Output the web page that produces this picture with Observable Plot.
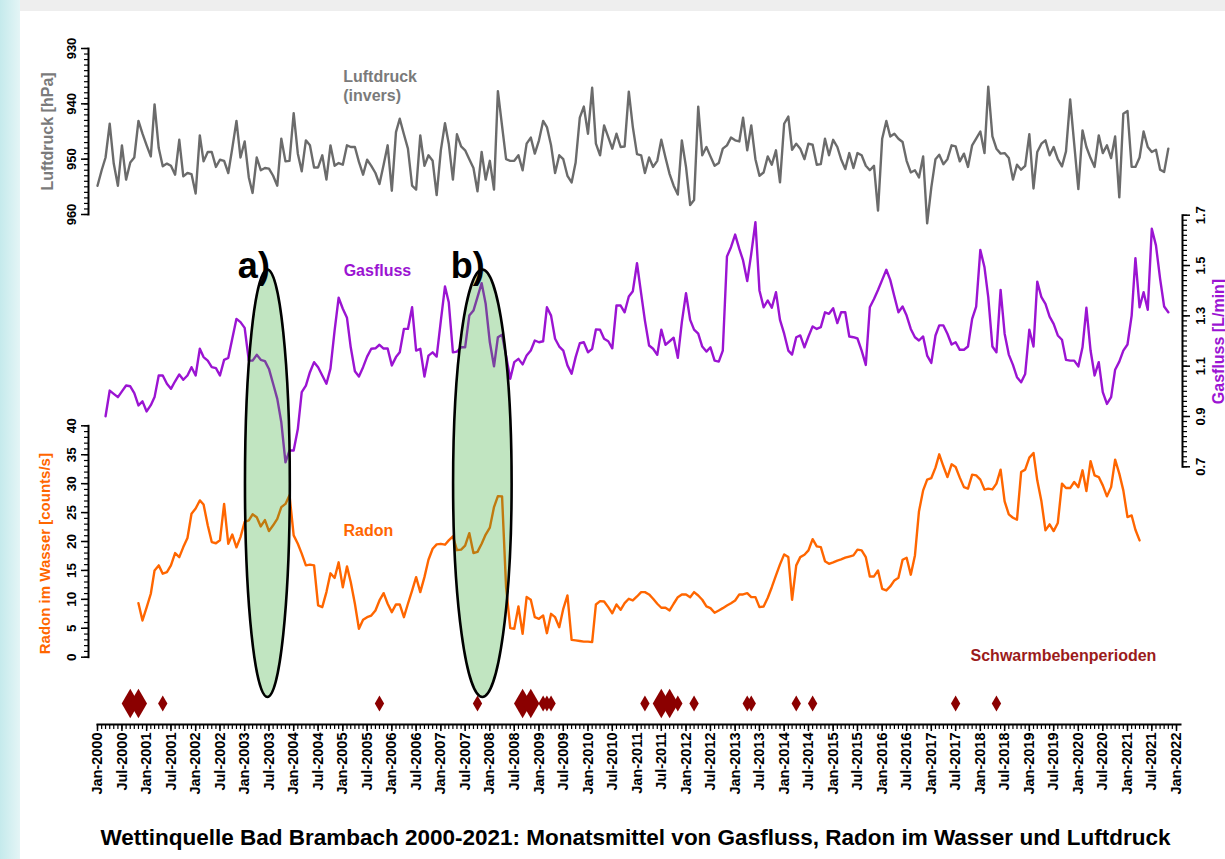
<!DOCTYPE html>
<html>
<head>
<meta charset="utf-8">
<script src="https://cdn.jsdelivr.net/npm/d3@7"></script>
<script src="https://cdn.jsdelivr.net/npm/@observablehq/plot@0.6"></script>
<style>
  html, body { margin: 0; padding: 0; background: #ffffff; }
  body { width: 1225px; height: 859px; overflow: hidden; position: relative; font-family: "Liberation Sans", Arial, Helvetica, sans-serif; }
  #topband { position: absolute; left: 0; top: 0; width: 1225px; height: 11px; background: #eeeeee; }
  #leftband { position: absolute; left: 0; top: 0; width: 20px; height: 859px; background: linear-gradient(to right, #c5eaec, #e4f5f6); }
  #chart { position: absolute; left: 0; top: 0; width: 1225px; height: 810px; }
  #chart > svg { position: absolute; left: 0; top: 0; margin: 0; }
  #title { position: absolute; left: 80px; width: 1111px; top: 825px; text-align: center; font-size: 22.5px; font-weight: bold; line-height: 26px; color: #000; white-space: nowrap; }
</style>
</head>
<body>
<div id="topband"></div>
<div id="leftband"></div>
<div id="chart"></div>
<div id="title">Wettinquelle Bad Brambach 2000-2021: Monatsmittel von Gasfluss, Radon im Wasser und Luftdruck</div>
<script>
// ---------------- DATA (monthly means) ----------------
const luftdruckStart = "2000-01";
const luftdruck = [
954.8,952,949.7,943.6,950.8,954.8,947.5,953.7,950.6,949.7,943.1,945.4,
947.5,949.5,940.1,948,951.3,950.8,951.2,952.8,946.5,953.1,952.5,952.7,
956.2,945.7,950.4,948.7,948.7,951.4,950.1,950.3,952.5,948,943.1,949.7,
946.8,953.3,956.1,949.7,952,951.6,951.7,953,954.8,946.3,950.4,950.3,
941.7,949,952.2,946.6,947.5,951.5,951.5,949.3,953.7,947.5,951.2,950.7,
951,947.5,947.8,947.8,950.5,952.8,950.1,951.2,952.5,954.5,951,947.5,
955.7,945.1,942.7,945.5,948.1,954.8,955.5,945.7,951.2,949.3,950.3,956.5,
948.4,943.5,947.2,953.7,945.5,947.7,948.4,950,951.6,955.8,948.7,953.7,
950.3,955.5,937.7,944,950,950.3,950.3,949.3,952,947.2,946.1,949,
946.6,943.1,944.2,947.5,952.5,949.3,950,953,954.2,950.6,942.5,940.5,
945.4,937.1,947.2,949.3,943.9,946,948.1,945.4,947.8,947.7,937.8,944.2,
949.1,949.3,952.5,949.7,951.4,950.3,946.5,949.7,952.7,954.8,956.4,946.6,
951.4,958.3,957.4,940.5,949.3,947.8,949.5,951.2,950.7,948.1,947.5,946.1,
946.6,946.8,942.5,948.4,943.9,950,953,952.4,949.5,951,948.4,954.2,
943.6,942.3,948.3,947.2,948.1,950,947.2,947.4,951,950.9,946.3,949.3,
946.5,947.8,950,951.8,948.9,951.6,948.9,949.3,951.2,952,951.2,959.3,
946.3,943.1,945.9,945.4,946.3,946.9,950.3,952.4,952,953.3,949.5,961.6,
955.1,950,949.2,950.9,950,947.5,947.7,950.4,949,951.4,947.5,946.3,
945,948.9,936.9,945.9,948.1,949,948.9,949.8,953.7,951,951.9,951.2,
945.5,955.3,948.7,947.2,946.6,949.3,947.8,950,951.3,948.6,939.2,947.2,
955.4,944.8,947.8,949.8,951.4,945.7,948.9,947.5,949.8,945.9,956.9,941.8,
941.3,951.4,951.4,949.7,945,947.8,948.7,948.3,951.9,952.3,948.1
];

const gasflussStart = "2000-03";
const gasfluss = [
0.901,1.003,0.99,0.977,1.0,1.023,1.020,0.993,0.944,0.960,
0.920,0.945,0.977,1.063,1.063,1.03,1.010,1.04,1.067,1.046,1.063,1.096,
1.063,1.169,1.136,1.122,1.096,1.092,1.063,1.125,1.133,1.21,1.288,1.275,
1.252,1.122,1.122,1.145,1.125,1.120,1.089,1.030,0.970,0.877,0.718,0.765,
0.765,0.85,0.997,1.023,1.076,1.116,1.096,1.063,1.030,1.090,1.242,1.372,
1.328,1.292,1.175,1.080,1.059,1.096,1.138,1.169,1.171,1.185,1.17,1.17,
1.103,1.136,1.155,1.248,1.248,1.334,1.162,1.169,1.059,1.142,1.155,1.138,
1.28,1.417,1.354,1.155,1.158,1.175,1.175,1.301,1.321,1.374,1.430,1.348,
1.195,1.099,1.215,1.225,1.14,1.050,1.116,1.129,1.107,1.142,1.162,1.202,
1.195,1.199,1.334,1.301,1.209,1.178,1.162,1.103,1.070,1.136,1.191,1.195,
1.155,1.169,1.246,1.245,1.209,1.199,1.171,1.341,1.341,1.314,1.377,1.398,
1.509,1.388,1.281,1.182,1.169,1.145,1.245,1.185,1.199,1.213,1.133,1.275,
1.390,1.284,1.245,1.229,1.178,1.158,1.175,1.122,1.118,1.162,1.536,1.573,
1.623,1.566,1.520,1.438,1.547,1.672,1.401,1.334,1.361,1.332,1.394,1.284,
1.229,1.162,1.146,1.215,1.222,1.175,1.218,1.258,1.248,1.255,1.314,1.308,
1.330,1.271,1.314,1.314,1.218,1.215,1.21,1.162,1.105,1.334,1.367,1.403,
1.443,1.483,1.443,1.377,1.314,1.337,1.301,1.248,1.215,1.202,1.218,1.142,
1.113,1.222,1.262,1.262,1.229,1.186,1.195,1.165,1.165,1.178,1.288,1.337,
1.562,1.493,1.374,1.178,1.155,1.403,1.229,1.146,1.105,1.056,1.036,1.069,
1.245,1.178,1.436,1.374,1.348,1.297,1.268,1.222,1.205,1.125,1.122,1.122,
1.099,1.175,1.332,1.162,1.063,1.116,0.997,0.950,0.977,1.086,1.118,1.162,
1.186,1.301,1.529,1.334,1.394,1.324,1.646,1.580,1.447,1.337,1.314
];

const radonStart = "2000-11";
const radon = [
9.34,6.35,8.6,10.97,15.0,15.87,14.43,14.7,15.87,18.0,17.3,19.03,
20.6,24.8,25.7,27.1,26.4,22.8,19.9,19.7,20.2,26.5,19.6,21.2,
19.0,20.76,23.4,23.65,24.7,24.2,22.6,23.7,21.8,22.8,23.9,25.95,
26.5,28.0,21.06,19.6,17.9,15.87,16.0,15.87,8.94,8.65,11.25,14.5,
13.7,16.4,12.1,15.7,13.0,9.24,4.91,6.47,6.92,7.2,8.08,9.81,
11.07,9.24,7.79,9.12,9.12,6.92,9.24,11.5,13.84,11.25,13.84,16.85,
18.75,19.5,19.6,19.45,20.2,20.9,18.5,18.6,19.3,21.45,18.0,18.2,
19.6,21.2,22.4,25.95,27.85,27.8,12.1,5.02,4.91,8.77,4.05,10.4,
9.93,6.92,6.64,7.2,4.15,7.5,6.92,5.19,8.37,10.67,3.0,2.9,
2.8,2.7,2.7,2.6,9.12,9.7,9.64,8.65,7.6,9.12,8.2,9.34,
10.1,9.81,10.5,11.25,11.25,10.85,10.1,9.24,8.55,8.55,8.08,9.24,
10.38,10.85,10.85,10.38,11.25,10.67,9.93,8.77,8.48,7.68,8.08,8.48,
8.94,9.34,9.81,10.85,10.85,11.07,10.38,10.38,8.65,8.77,10.28,12.1,
14.13,16.04,17.77,17.3,9.93,15.87,17.3,17.7,18.46,20.4,19.15,19.03,
16.6,16.15,16.4,16.7,16.9,17.2,17.4,17.6,18.6,18.46,17.3,13.96,
13.96,15.0,11.83,11.54,12.23,13.27,13.73,16.85,17.2,14.26,17.6,25.2,
28.84,30.7,30.97,32.77,35.07,33.0,31.14,33.34,32.87,31.04,29.4,29.13,
31.56,31.44,30.7,28.96,29.13,29.0,30.0,32.42,26.94,24.69,24.1,23.77,
32.0,32.42,34.5,35.3,30.57,26.94,21.92,22.96,21.8,23.2,30.0,29.24,
29.24,30.28,29.4,32.3,28.72,33.9,31.44,31.14,29.7,27.8,29.4,34.15,
31.73,28.84,24.22,24.5,22.04,20.19
];

// Schwarmbebenperioden (month, relative strength 1 = small, 2 = large)
const bebenMonate = ["2000-09","2000-11","2001-05","2005-10","2007-10","2008-09","2008-11",
  "2009-02","2009-03","2009-04","2011-03","2011-07","2011-09","2011-11","2012-03",
  "2013-04","2013-05","2014-04","2014-08","2017-07","2018-05"];
const bebenStaerke = [2,2,1,1,1,2,2,1,1,1,1,2,2,1,1,1,1,1,1,1,1];

// highlighted periods a) and b)
const markierungLabels = ["a)", "b)"];
const markierungStart = ["2003-01-07", "2007-04-06"];
const markierungEnde = ["2003-12-07", "2008-06-15"];

// y tick values
const luftTicks = [930, 940, 950, 960];
const gasTicks = [0.7, 0.9, 1.1, 1.3, 1.5, 1.7];
const radonTicks = [0, 5, 10, 15, 20, 25, 30, 35, 40];

// ---------------- CHART ----------------
const W = 1225, H = 810;
const AXIS_Y = 724;
const X_DOMAIN = [new Date(Date.UTC(2000, 0, 1)), new Date(Date.UTC(2022, 0, 1))];
const X_RANGE = [97, 1176];
const FONT = '"Liberation Sans", Arial, Helvetica, sans-serif';
const baseStyle = {background: "transparent", overflow: "visible", fontFamily: FONT, fontWeight: "bold", fontSize: "13px", color: "#000"};
const GRAY = "#6b6b6b", PURPLE = "#9b14d2", ORANGE = "#ff6600", DARKRED = "#8b0000";

const parseMonth = d3.utcParse("%Y-%m");
const parseDay = d3.utcParse("%Y-%m-%d");
const toTable = (start, values) => values.map((v, i) => ({date: d3.utcMonth.offset(parseMonth(start), i), value: v}));
const luftTable = toTable(luftdruckStart, luftdruck);
const gasTable = toTable(gasflussStart, gasfluss);
const radonTable = toTable(radonStart, radon);
const beben = bebenMonate.map((m, i) => ({date: parseMonth(m), staerke: bebenStaerke[i]}));
const markierungen = markierungLabels.map((l, i) => {
  const s = parseDay(markierungStart[i]), e = parseDay(markierungEnde[i]);
  return {label: l, start: s, end: e, mid: new Date((+s + +e) / 2)};
});
const xOpts = (axis) => ({type: "utc", domain: X_DOMAIN, range: X_RANGE, ...(axis ? {} : {axis: null})});
const layer = (opts) => Plot.plot({width: W, height: H, style: baseStyle, ...opts});
const blank = () => "";

const allMonths = d3.utcMonth.range(X_DOMAIN[0], d3.utcDay.offset(X_DOMAIN[1], 1));
const halfYears = d3.utcMonth.every(6).range(X_DOMAIN[0], d3.utcDay.offset(X_DOMAIN[1], 1));

// base: time axis + swarm quake periods
const base = layer({
  marginLeft: 97, marginRight: W - 1180, marginTop: 0, marginBottom: H - AXIS_Y,
  x: xOpts(true),
  r: {type: "linear", domain: [1, 2], range: [4.9, 9]},
  marks: [
    Plot.frame({anchor: "bottom", stroke: "#000", strokeWidth: 2}),
    Plot.axisX({ticks: allMonths, tickSize: 5, tickFormat: blank, strokeWidth: 1.2, label: null}),
    Plot.axisX({ticks: halfYears, tickSize: 7, tickPadding: 1, tickRotate: -90, tickFormat: d3.utcFormat("%b-%Y"), fontSize: 14.5, strokeWidth: 1.5, label: null}),
    Plot.dot(beben, {x: "date", r: "staerke", symbol: "diamond", fill: DARKRED, frameAnchor: "bottom", dy: -21}),
    Plot.text([{date: new Date(Date.UTC(2019, 8, 12)), t: "Schwarmbebenperioden"}], {x: "date", text: "t", frameAnchor: "bottom", dy: -64, fill: "#9b1b1b", fontSize: 16, fontWeight: "bold"})
  ]
});

// Luftdruck (inverted)
const luft = layer({
  marginLeft: 88, marginRight: W - 1176, marginTop: 48, marginBottom: H - 214,
  x: xOpts(false),
  y: {domain: [960, 930]},
  marks: [
    Plot.frame({anchor: "left", stroke: "#000", strokeWidth: 2}),
    Plot.axisY({ticks: d3.range(930, 961, 1), tickSize: 4, tickFormat: blank, strokeWidth: 1.2, label: null}),
    Plot.axisY({ticks: luftTicks, tickSize: 7, tickPadding: 6, tickRotate: -90, textAnchor: "middle", lineAnchor: "bottom", fontSize: 13, strokeWidth: 1.5, label: null}),
    Plot.line(luftTable, {x: "date", y: "value", stroke: GRAY, strokeWidth: 2.4}),
    Plot.text([{date: new Date(Date.UTC(2005, 0, 4)), v: 936.7, t: "Luftdruck\n(invers)"}], {x: "date", y: "v", text: "t", textAnchor: "start", lineHeight: 1.15, fill: "#7a7a7a", fontSize: 16, fontWeight: "bold"}),
    Plot.text([{v: 945, t: "Luftdruck [hPa]"}], {y: "v", text: "t", frameAnchor: "left", textAnchor: "middle", dx: -41, rotate: -90, fill: "#7a7a7a", fontSize: 16, fontWeight: "bold"})
  ]
});

// Radon
const rad = layer({
  marginLeft: 88, marginRight: W - 1176, marginTop: 425.3, marginBottom: H - 656.7,
  x: xOpts(false),
  y: {domain: [0, 40]},
  marks: [
    Plot.frame({anchor: "left", stroke: "#000", strokeWidth: 2}),
    Plot.axisY({ticks: d3.range(0, 41, 1), tickSize: 4, tickFormat: blank, strokeWidth: 1.2, label: null}),
    Plot.axisY({ticks: radonTicks, tickSize: 7, tickPadding: 6, tickRotate: -90, textAnchor: "middle", lineAnchor: "bottom", fontSize: 13.5, strokeWidth: 1.5, label: null}),
    Plot.line(radonTable, {x: "date", y: "value", stroke: ORANGE, strokeWidth: 2.4}),
    Plot.text([{date: new Date(Date.UTC(2005, 6, 10)), v: 21.8, t: "Radon"}], {x: "date", y: "v", text: "t", fill: ORANGE, fontSize: 16, fontWeight: "bold"}),
    Plot.text([{v: 17.9, t: "Radon im Wasser [counts/s]"}], {y: "v", text: "t", frameAnchor: "left", textAnchor: "middle", dx: -43, rotate: -90, fill: ORANGE, fontSize: 15, fontWeight: "bold"})
  ]
});

// Gasfluss
const gas = layer({
  marginLeft: 97, marginRight: W - 1182, marginTop: 214.7, marginBottom: H - 466.3,
  x: xOpts(false),
  y: {domain: [0.7, 1.7]},
  marks: [
    Plot.frame({anchor: "right", stroke: "#000", strokeWidth: 2}),
    Plot.axisY({anchor: "right", ticks: d3.range(35, 86).map(i => i / 50), tickSize: 4, tickFormat: blank, strokeWidth: 1.2, label: null}),
    Plot.axisY({anchor: "right", ticks: gasTicks, tickSize: 7, tickPadding: 6, tickRotate: -90, textAnchor: "middle", lineAnchor: "top", tickFormat: d3.format(".1f"), fontSize: 13, strokeWidth: 1.5, label: null}),
    Plot.line(gasTable, {x: "date", y: "value", stroke: PURPLE, strokeWidth: 2.4}),
    Plot.text([{date: new Date(Date.UTC(2005, 8, 16)), v: 1.48, t: "Gasfluss"}], {x: "date", y: "v", text: "t", fill: PURPLE, fontSize: 16, fontWeight: "bold"}),
    Plot.text([{v: 1.198, t: "Gasfluss [L/min]"}], {y: "v", text: "t", frameAnchor: "right", textAnchor: "middle", dx: 36, rotate: -90, fill: PURPLE, fontSize: 16, fontWeight: "bold"})
  ]
});

// annotations a) b)
const ann = layer({
  marginLeft: 97, marginRight: W - 1176, marginTop: 269.5, marginBottom: H - 697,
  x: xOpts(false),
  marks: [
    (index, scales, values, dimensions) => {
      const g = d3.create("svg:g");
      const top = dimensions.marginTop, bottom = dimensions.height - dimensions.marginBottom;
      for (const m of markierungen) {
        const x0 = scales.x(m.start), x1 = scales.x(m.end);
        g.append("ellipse")
          .attr("cx", (x0 + x1) / 2).attr("cy", (top + bottom) / 2)
          .attr("rx", (x1 - x0) / 2).attr("ry", (bottom - top) / 2)
          .attr("fill", "#32aa32").attr("fill-opacity", 0.3)
          .attr("stroke", "#000").attr("stroke-width", 2.6);
      }
      return g.node();
    },
    Plot.text(markierungen, {x: "mid", text: "label", frameAnchor: "top", dy: -18, dx: 2, textAnchor: "end", fontSize: 36, fontWeight: "bold", fill: "#000"})
  ]
});

const chart = document.getElementById("chart");
for (const p of [base, luft, rad, gas, ann]) chart.appendChild(p);
</script>
</body>
</html>
